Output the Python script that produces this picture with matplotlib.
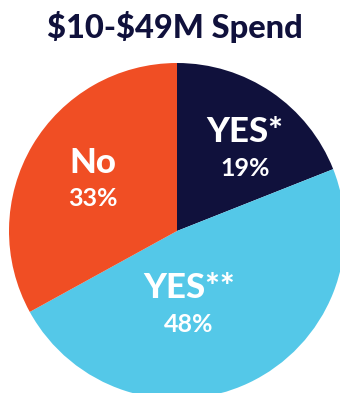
import matplotlib
matplotlib.use("Agg")
import matplotlib.pyplot as plt

title = "\\$10-\\$49M Spend"
labels = ["YES*", "YES**", "No"]
shares = [19, 48, 33]
colors = ["#10113c", "#54c8e8", "#f04e24"]
navy = "#10113c"

W, H = 340, 393
fig = plt.figure(figsize=(W / 100, H / 100), dpi=100)
ax = fig.add_axes([0, 0, 1, 1])

ax.pie(shares, colors=colors, startangle=90, counterclock=False,
       center=(177, H - 231), radius=168,
       wedgeprops=dict(linewidth=0))
ax.set_xlim(0, W)
ax.set_ylim(0, H)
ax.set_aspect("equal")
ax.axis("off")

ax.text(175, H - 27, title, ha="center", va="center", color=navy,
        fontsize=23.5, fontfamily="Lato", fontweight="black")

# label blocks: (x, y of name, y of percent) in pixels from the top
spots = [(245, 132, 168), (189, 288, 324), (93, 163, 198)]
for name, pct, (x, y1, y2) in zip(labels, shares, spots):
    ax.text(x, H - y1, name, ha="center", va="center", color="white",
            fontsize=25, fontfamily="Lato", fontweight="black")
    ax.text(x, H - y2, f"{pct}%", ha="center", va="center", color="white",
            fontsize=18, fontfamily="Lato", fontweight="bold")

fig.savefig("out.png", dpi=100)
